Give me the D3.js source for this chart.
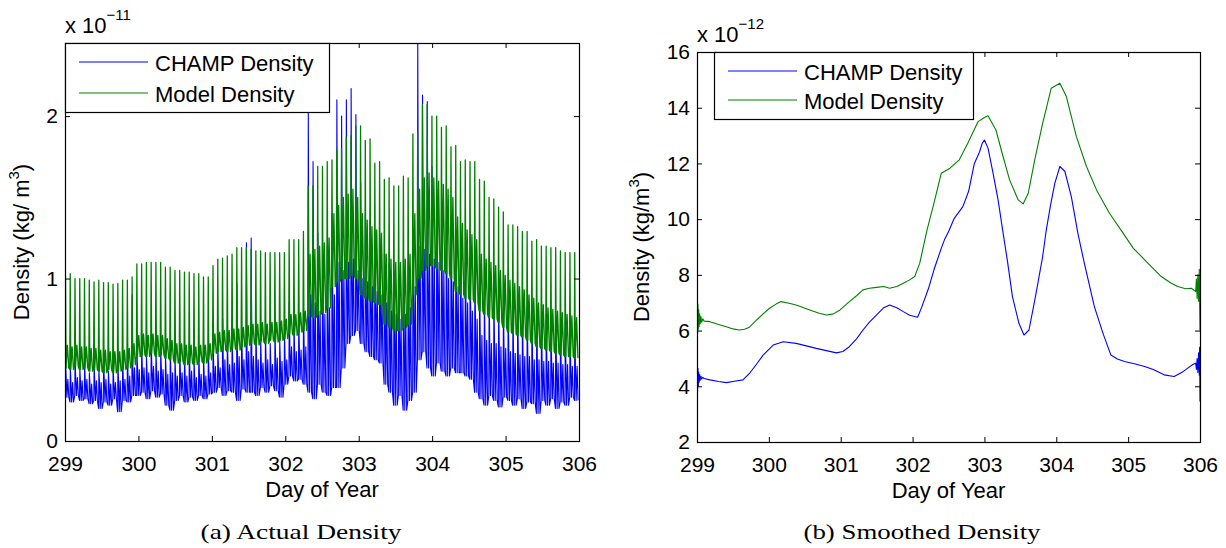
<!DOCTYPE html>
<html>
<head>
<meta charset="utf-8">
<script src="https://cdn.jsdelivr.net/npm/d3@7"></script>
<style>
  body { margin: 0; background: #fff; }
  svg { display: block; }
  text { fill: #000; }
</style>
</head>
<body>
<svg id="chart" width="1226" height="548"></svg>
<script>
// ---- data ----
const dayTicks = [299, 300, 301, 302, 303, 304, 305, 306];
const actualTicks = [0, 1, 2];
const smoothTicks = [2, 4, 6, 8, 10, 12, 14, 16];

// actual density, one value per CHAMP orbit (x 1e-11 kg/m^3), 108 orbits over days 299-306
const orbitFirstDay = 299;
const orbitLength = 7 / 108;

const modelPeak = [1.02,1.03,1.00,1.00,1.00,0.99,0.98,0.99,0.975,0.975,0.965,0.97,0.99,0.99,1.01,
  1.09,1.09,1.10,1.10,1.10,1.10,1.07,1.07, 1.05,1.05,1.04,1.04,1.03,1.03,1.01,1.01,
  1.08,1.12,1.125,1.14,1.15,1.19,1.19,1.19, 1.18,1.17,1.17,1.16,1.16,1.16,1.16,1.16,
  1.24,1.24,1.24,1.29,
  1.57,1.57,1.69,1.69,1.72,1.73,1.79,1.80,1.87,1.88,1.94,1.94,1.85,1.86,1.71,1.72,1.61,1.62,1.57,1.57,
  1.63,1.62,1.89,1.90,2.07,2.07,2.00,2.00,1.93,1.94,1.81,1.82,1.72,1.73,1.72,1.72,1.61,1.60,1.50,1.49,
  1.44,1.41,1.33,1.33,1.32,1.29,1.29,1.23,1.24,1.20,1.20,1.19,1.19,1.17,1.16,1.16,1.16];
const modelBase = [0.45,0.44,0.46,0.44,0.45,0.43,0.44,0.43,0.42,0.44,0.42,0.43,0.44,0.45,0.47,
  0.52,0.53,0.52,0.54,0.52,0.53,0.51,0.50, 0.48,0.49,0.47,0.48,0.47,0.49,0.48,0.50,
  0.54,0.55,0.56,0.55,0.57,0.56,0.58,0.59, 0.60,0.59,0.61,0.60,0.62,0.61,0.62,0.63,
  0.66,0.65,0.67,0.68, 0.77,0.76,0.78,0.79,0.82, 0.95,0.98,1.00,1.00,1.02,1.00,
  0.90,0.88,0.86,0.85,0.84, 0.72,0.70,0.68,0.68,0.70,0.72,
  0.90,1.00,1.05,1.08,1.08,1.06,1.05,1.03,1.00, 0.92,0.90,0.88,0.87,0.85,
  0.80,0.78,0.76,0.75,0.73,0.70, 0.67,0.66,0.65,0.64,0.62,0.60,
  0.58,0.57,0.56,0.55,0.54,0.53,0.52,0.52,0.51];
const modelMid = [0.59,0.58,0.59,0.58,0.58,0.57,0.57,0.56,0.56,0.55,0.55,0.55,0.56,0.57,0.60,
  0.65,0.66,0.65,0.66,0.65,0.65,0.63,0.62, 0.60,0.60,0.59,0.59,0.58,0.59,0.59,0.60,
  0.66,0.67,0.68,0.68,0.69,0.69,0.70,0.71, 0.72,0.72,0.73,0.72,0.73,0.73,0.74,0.75,
  0.78,0.78,0.79,0.80, 1.15,1.18,1.20,1.22,1.25, 1.40,1.45,1.50,1.52,1.55,1.50,
  1.40,1.36,1.32,1.30,1.28, 1.15,1.12,1.10,1.10,1.12,1.15,
  1.40,1.55,1.62,1.65,1.62,1.60,1.58,1.55,1.50, 1.38,1.34,1.30,1.27,1.24,
  1.15,1.12,1.10,1.08,1.05,1.02, 0.99,0.97,0.95,0.93,0.90,0.88,
  0.85,0.84,0.82,0.81,0.80,0.79,0.78,0.77,0.76];

const champPeak = [0.48,0.45,0.50,0.44,0.47,0.42,0.46,0.44,0.48,0.43,0.45,0.47,0.50,0.55,0.90,
  0.55,0.58,0.52,0.60,0.55,0.57,0.53,0.56, 0.50,0.55,0.52,0.56,0.50,0.54,0.52,0.55,
  0.60,0.58,0.75,0.62,0.65,0.97,0.70,1.22, 1.25,0.70,0.62,0.65,0.60,0.68,0.62,0.66,
  0.85,0.72,0.75,0.80, 2.02,1.72,1.28,1.15,1.20,1.40, 2.10,2.00,2.10,2.17,2.01,
  1.59,1.40,1.35,1.30,1.25, 1.15,1.10,1.05,1.00,1.05,1.10,1.30,
  2.45,2.13,2.09,1.69,1.55, 1.45,1.35,1.30,1.25, 1.15,1.10,1.05,1.00,
  0.95,0.92,0.90,0.88,0.85,0.82,
  0.85,0.82,0.84,0.80,0.82,0.78,0.80,0.77,0.78,0.75,0.76,0.74,0.75,0.72,0.74];
const champMid = [0.38,0.36,0.39,0.37,0.38,0.35,0.37,0.36,0.38,0.35,0.36,0.37,0.38,0.40,0.45,
  0.44,0.45,0.42,0.46,0.43,0.44,0.41,0.42, 0.40,0.42,0.40,0.43,0.39,0.41,0.40,0.42,
  0.46,0.45,0.50,0.47,0.48,0.52,0.50,0.55, 0.52,0.50,0.48,0.50,0.47,0.51,0.49,0.50,
  0.58,0.55,0.56,0.58, 0.90,0.85,0.80,0.78,0.82,0.90, 1.10,1.05,1.10,1.12,1.05,
  1.00,0.98,0.95,0.92,0.90, 0.85,0.80,0.78,0.75,0.78,0.82,0.95,
  1.20,1.18,1.15,1.12,1.10, 1.05,1.00,0.98,0.95, 0.88,0.85,0.80,0.75,
  0.65,0.62,0.60,0.60,0.58,0.57,
  0.55,0.54,0.53,0.52,0.52,0.50,0.50,0.49,0.49,0.48,0.48,0.47,0.47,0.46,0.46];
const champLow = [0.27,0.24,0.28,0.25,0.26,0.23,0.25,0.20,0.24,0.22,0.26,0.18,0.25,0.24,0.28,
  0.28,0.30,0.26,0.31,0.27,0.29,0.22,0.19, 0.25,0.28,0.24,0.27,0.25,0.28,0.26,0.29,
  0.30,0.33,0.28,0.31,0.30,0.25,0.32,0.30, 0.30,0.28,0.33,0.30,0.34,0.31,0.27,0.35,
  0.40,0.37,0.38,0.35, 0.30,0.26,0.35,0.30,0.28,0.33, 0.33,0.45,0.60,0.65,0.68,
  0.60,0.55,0.52,0.50,0.48, 0.35,0.30,0.22,0.28,0.19,0.25,0.30,
  0.50,0.55,0.45,0.40,0.48, 0.43,0.40,0.45,0.42, 0.42,0.40,0.38,0.30,
  0.26,0.22,0.28,0.25,0.21,0.27,
  0.25,0.22,0.26,0.20,0.24,0.23,0.17,0.25,0.22,0.26,0.20,0.24,0.22,0.27,0.25];

// smoothed density [day, x 1e-12 kg/m^3]
const champSmooth = [[299.0,3.35],[299.004,4.9],[299.008,3.8],[299.013,4.65],[299.018,4.0],[299.024,4.5],
  [299.03,4.15],[299.037,4.42],[299.045,4.22],[299.055,4.36],[299.065,4.26],[299.08,4.32],[299.1,4.28],
  [299.18,4.23],[299.3,4.17],[299.41,4.13],[299.52,4.18],[299.64,4.23],[299.73,4.46],[299.83,4.8],
  [299.92,5.12],[300.06,5.48],[300.2,5.6],[300.38,5.54],[300.52,5.45],[300.66,5.36],[300.8,5.28],
  [300.94,5.2],[301.03,5.25],[301.12,5.42],[301.22,5.7],[301.31,6.02],[301.4,6.3],[301.5,6.56],
  [301.6,6.82],[301.68,6.92],[301.78,6.82],[301.87,6.68],[301.96,6.55],[302.07,6.48],[302.13,6.86],
  [302.22,7.5],[302.3,8.2],[302.4,8.96],[302.45,9.3],[302.5,9.55],[302.58,10.03],[302.7,10.45],
  [302.78,11.0],[302.86,12.0],[302.93,12.4],[302.97,12.73],[303.0,12.84],[303.05,12.55],[303.12,11.65],
  [303.19,10.69],[303.26,9.5],[303.32,8.5],[303.39,7.22],[303.48,6.26],[303.55,5.84],[303.62,6.02],
  [303.71,7.22],[303.81,8.65],[303.86,9.6],[303.92,10.5],[303.98,11.29],[304.05,11.89],[304.12,11.71],
  [304.21,10.8],[304.3,9.5],[304.39,8.42],[304.53,6.86],[304.65,5.9],[304.76,5.12],[304.85,4.98],
  [304.95,4.89],[305.1,4.8],[305.23,4.71],[305.35,4.6],[305.5,4.41],[305.64,4.35],[305.75,4.5],
  [305.83,4.65],[305.9,4.78],[305.94,4.83],[305.95,4.6],[305.96,5.0],[305.97,4.5],[305.98,5.2],
  [305.99,4.4],[305.995,5.4],[306.0,3.45]];
const modelSmooth = [[299.0,5.3],[299.004,7.2],[299.008,5.9],[299.013,6.95],[299.018,6.05],[299.024,6.75],
  [299.03,6.15],[299.037,6.6],[299.045,6.25],[299.055,6.5],[299.065,6.3],[299.08,6.42],[299.1,6.34],
  [299.18,6.32],[299.3,6.22],[299.41,6.14],[299.5,6.06],[299.59,6.02],[299.66,6.05],[299.73,6.12],
  [299.83,6.38],[299.92,6.6],[300.01,6.8],[300.1,6.95],[300.17,7.04],[300.28,6.98],[300.38,6.92],
  [300.57,6.74],[300.7,6.62],[300.8,6.56],[300.9,6.6],[300.99,6.74],[301.12,7.04],[301.22,7.25],
  [301.31,7.46],[301.4,7.52],[301.5,7.55],[301.6,7.58],[301.68,7.52],[301.78,7.58],[301.87,7.7],
  [301.96,7.82],[302.03,7.94],[302.1,8.42],[302.2,9.6],[302.3,10.6],[302.4,11.65],[302.52,11.83],
  [302.65,12.13],[302.77,12.73],[302.91,13.5],[303.0,13.65],[303.05,13.71],[303.16,13.2],[303.26,12.24],
  [303.35,11.41],[303.47,10.69],[303.54,10.55],[303.61,10.93],[303.7,12.13],[303.81,13.44],[303.93,14.7],
  [304.05,14.88],[304.14,14.4],[304.28,12.96],[304.42,11.89],[304.56,11.05],[304.74,10.21],[304.93,9.5],
  [305.07,8.96],[305.23,8.54],[305.46,7.94],[305.6,7.7],[305.69,7.58],[305.8,7.5],[305.88,7.52],
  [305.94,7.4],[305.95,7.85],[305.96,7.15],[305.97,8.0],[305.98,7.05],[305.99,8.2],[305.995,7.0],[306.0,6.0]];

const legendNames = ['CHAMP Density', 'Model Density'];
const blue = '#0000ff', green = '#008000';

// shape of one orbit: [fraction of orbit, which value]
const modelShape = [[0, 'base'], [0.1, 'peak'], [0.22, 'base'], [0.5, 'mid'], [0.78, 'base']];
const champShape = [[0.05, 'low'], [0.12, 'peak'], [0.25, 'mid'], [0.4, 'low'], [0.6, 'mid'], [0.8, 'low']];

function orbitPoints(shape, values) {
  const pts = [];
  values.peak.forEach((_, i) => {
    const t0 = orbitFirstDay + i * orbitLength;
    shape.forEach(([f, key]) => pts.push([t0 + f * orbitLength, values[key][i]]));
  });
  return pts;
}

const svg = d3.select('#chart');
const sans = '"Liberation Sans", Arial, sans-serif';
const serif = '"Liberation Serif", "Times New Roman", serif';

function panel(p) {
  const x = d3.scaleLinear().domain([299, 306]).range([p.left, p.right]);
  const y = d3.scaleLinear().domain(p.yDomain).range([p.bottom, p.top]);

  svg.append('clipPath').attr('id', 'clip' + p.id)
    .append('rect')
    .attr('x', p.left).attr('y', p.top)
    .attr('width', p.right - p.left).attr('height', p.bottom - p.top);

  const g = svg.append('g').style('font-family', sans);
  const plot = g.append('g').attr('clip-path', `url(#clip${p.id})`);

  const line = d3.line().x(d => x(d[0])).y(d => y(d[1]));
  p.series.forEach(s => {
    plot.append('path')
      .attr('d', line(s.points))
      .attr('fill', 'none')
      .attr('stroke', s.color)
      .attr('stroke-width', s.width)
      .attr('stroke-linejoin', 'round');
  });

  // axes, ticks point inwards on all four sides
  const styleAxis = a => a.attr('font-size', 21).attr('font-family', null)
    .call(s => s.select('.domain').remove())
    .call(s => s.selectAll('line').attr('stroke', '#000'));

  g.append('g')
    .attr('transform', `translate(0,${p.bottom})`)
    .call(d3.axisBottom(x).tickValues(dayTicks).tickFormat(d3.format('d')).tickSize(-5).tickPadding(15))
    .call(styleAxis);
  g.append('g')
    .attr('transform', `translate(0,${p.top})`)
    .call(d3.axisTop(x).tickValues(dayTicks).tickFormat('').tickSize(-5))
    .call(styleAxis);
  g.append('g')
    .attr('transform', `translate(${p.left},0)`)
    .call(d3.axisLeft(y).tickValues(p.yTicks).tickFormat(d3.format('d')).tickSize(-5).tickPadding(7))
    .call(styleAxis);
  g.append('g')
    .attr('transform', `translate(${p.right},0)`)
    .call(d3.axisRight(y).tickValues(p.yTicks).tickFormat('').tickSize(-5))
    .call(styleAxis);

  g.append('rect')
    .attr('x', p.left + 0.5).attr('y', p.top + 0.5)
    .attr('width', p.right - p.left).attr('height', p.bottom - p.top)
    .attr('fill', 'none').attr('stroke', '#000').attr('stroke-width', 1.2);

  // exponent
  const ex = g.append('text').attr('x', p.left).attr('y', p.top - 10).attr('font-size', 22);
  ex.append('tspan').text('x 10');
  ex.append('tspan').attr('font-size', 15).attr('dy', -13).text(p.exponent);

  // legend
  const lg = g.append('g');
  lg.append('rect')
    .attr('x', p.legend.x + 0.5).attr('y', p.legend.y + 0.5)
    .attr('width', p.legend.w).attr('height', p.legend.h)
    .attr('fill', '#fff').attr('stroke', '#000').attr('stroke-width', 1.2);
  legendNames.forEach((name, i) => {
    const ly = p.legend.y + p.legend.row0 + i * p.legend.rowGap;
    lg.append('line')
      .attr('x1', p.legend.x + 14).attr('x2', p.legend.x + 83)
      .attr('y1', ly).attr('y2', ly)
      .attr('stroke', [blue, green][i]).attr('stroke-width', 1);
    lg.append('text')
      .attr('x', p.legend.x + 90).attr('y', ly + 9)
      .attr('font-size', 22).text(name);
  });

  // axis labels
  const yl = g.append('text')
    .attr('transform', `translate(${p.yLabelX},${(p.top + p.bottom) / 2}) rotate(-90)`)
    .attr('text-anchor', 'middle').attr('font-size', 22);
  yl.append('tspan').text(p.yLabel);
  yl.append('tspan').attr('font-size', 15).attr('dy', -10).text('3');
  yl.append('tspan').attr('dy', 10).text(')');

  g.append('text')
    .attr('x', (p.left + p.right) / 2).attr('y', p.bottom + 56)
    .attr('text-anchor', 'middle').attr('font-size', 22).text('Day of Year');

  g.append('text')
    .attr('x', p.caption.x).attr('y', 539)
    .attr('text-anchor', 'middle')
    .style('font-family', serif)
    .attr('font-size', 21)
    .attr('textLength', p.caption.w).attr('lengthAdjust', 'spacingAndGlyphs')
    .text(p.caption.text);
}

panel({
  id: 'a', left: 65, right: 579, top: 43, bottom: 441,
  yDomain: [0, 2.45], yTicks: actualTicks, exponent: '\u221211',
  series: [
    { color: blue, width: 1.1, points: orbitPoints(champShape, { peak: champPeak, mid: champMid, low: champLow }) },
    { color: green, width: 1.3, points: orbitPoints(modelShape, { peak: modelPeak, mid: modelMid, base: modelBase }) }
  ],
  legend: { x: 65, y: 43, w: 264, h: 69, row0: 19, rowGap: 31 },
  yLabel: 'Density (kg/ m', yLabelX: 29,
  caption: { text: '(a) Actual Density', x: 301, w: 201 }
});

panel({
  id: 'b', left: 697, right: 1200, top: 52, bottom: 442,
  yDomain: [2, 16], yTicks: smoothTicks, exponent: '\u221212',
  series: [
    { color: blue, width: 1.1, points: champSmooth },
    { color: green, width: 1.1, points: modelSmooth }
  ],
  legend: { x: 714, y: 52, w: 259, h: 67, row0: 19, rowGap: 29 },
  yLabel: 'Density (kg/m', yLabelX: 649,
  caption: { text: '(b) Smoothed Density', x: 922, w: 237 }
});
</script>
</body>
</html>
